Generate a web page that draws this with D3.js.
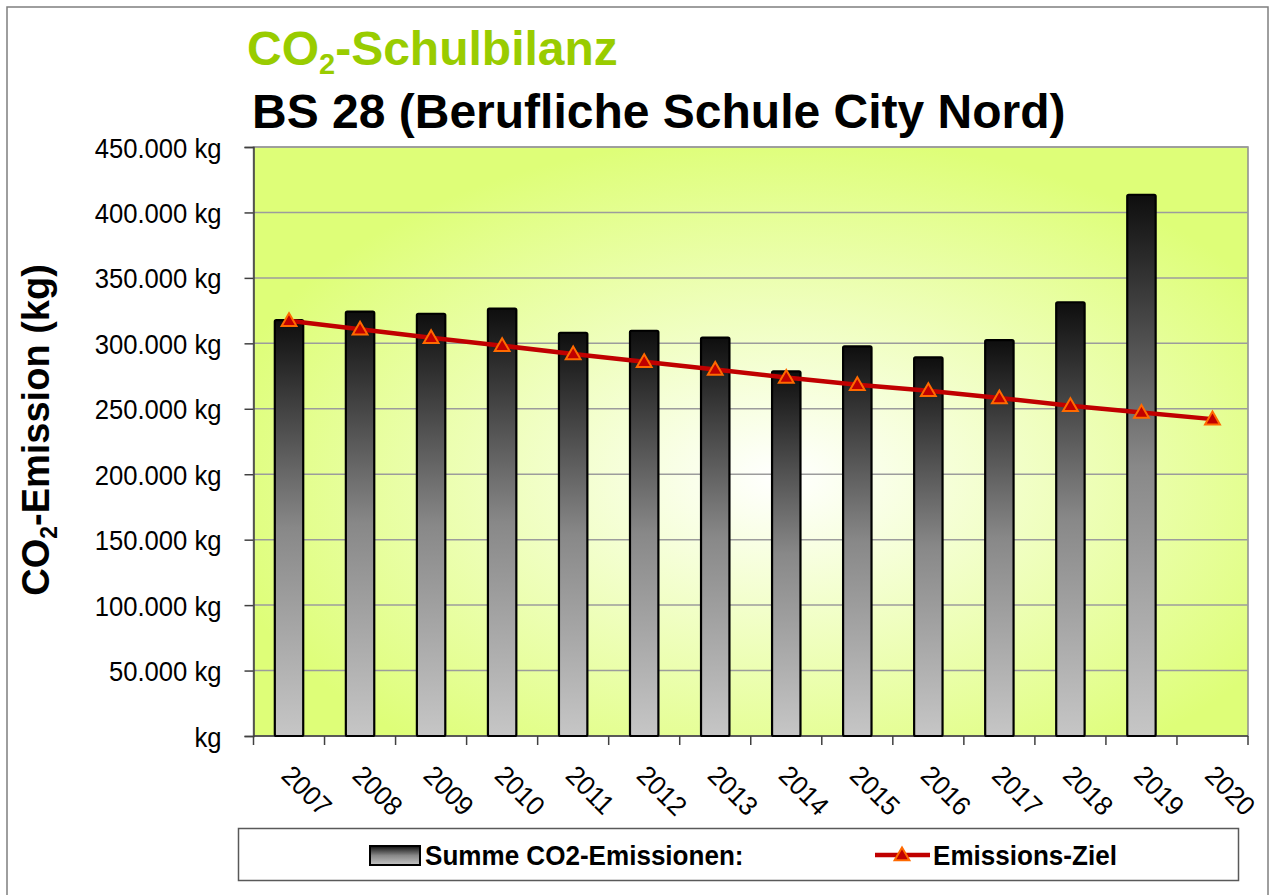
<html>
<head>
<meta charset="utf-8">
<script src="https://cdnjs.cloudflare.com/ajax/libs/d3/7.8.5/d3.min.js"></script>
<style>
  body { margin: 0; background: #fff; }
  text { font-family: "Liberation Sans", Arial, sans-serif; }
</style>
</head>
<body>
<div id="chartContainer"></div>
<script type="text/javascript">
  // chart data (kg)
  var years = ["2007", "2008", "2009", "2010", "2011", "2012", "2013",
               "2014", "2015", "2016", "2017", "2018", "2019", "2020"];
  var emissions = [317800, 324200, 322600, 326500, 308100, 309600, 304300,
                   278600, 297700, 289200, 302500, 331400, 413500, null];
  var targets = [317300, 310700, 304300, 298200, 291900, 285900, 280000,
                 273900, 268300, 263800, 258200, 252300, 247200, 242100];
  var yTicks = [0, 50000, 100000, 150000, 200000, 250000, 300000, 350000, 400000, 450000];
  var seriesNames = ["Summe CO2-Emissionen:", "Emissions-Ziel"];

  var width = 1274, height = 895;
  var plot = { left: 253.5, right: 1248, top: 147, bottom: 736 };

  var svg = d3.select("#chartContainer").append("svg")
    .attr("width", width)
    .attr("height", height);

  var defs = svg.append("defs");

  // plot background: light centre fading to lime at the edges
  var bg = defs.append("radialGradient").attr("id", "plotBg")
    .attr("cx", 0.53).attr("cy", 0.56).attr("r", 0.58);
  bg.append("stop").attr("offset", "0%").attr("stop-color", "#ffffff");
  bg.append("stop").attr("offset", "100%").attr("stop-color", "#defe78");

  // bar fill: dark top, light grey bottom
  var barGrad = defs.append("linearGradient").attr("id", "barFill")
    .attr("x1", 0).attr("y1", 0).attr("x2", 0).attr("y2", 1);
  barGrad.append("stop").attr("offset", "0%").attr("stop-color", "#0e0e0e");
  barGrad.append("stop").attr("offset", "50%").attr("stop-color", "#888888");
  barGrad.append("stop").attr("offset", "100%").attr("stop-color", "#c6c6c6");

  // squeeze a text to a fraction of its natural width
  function condense(sel, factor) {
    sel.each(function () {
      var len = this.getComputedTextLength();
      d3.select(this).attr("textLength", len * factor).attr("lengthAdjust", "spacingAndGlyphs");
    });
  }

  // outer frame
  svg.append("rect")
    .attr("x", 7).attr("y", 7)
    .attr("width", 1261).attr("height", 900)
    .style("fill", "none")
    .style("stroke", "#7f7f7f")
    .style("stroke-width", 1.5);

  // scales
  var x = d3.scaleBand().domain(years).range([plot.left, plot.right]).padding(0);
  var xBar = d3.scaleBand().domain(years).range([plot.left, plot.right])
    .paddingInner(0.6).paddingOuter(0.3);
  var y = d3.scaleLinear().domain([0, 450000]).range([plot.bottom, plot.top]);

  var de = d3.formatLocale({ decimal: ",", thousands: ".", grouping: [3], currency: ["", " €"] });
  var fmt = de.format(",");

  // plot area
  svg.append("rect")
    .attr("x", plot.left).attr("y", plot.top)
    .attr("width", plot.right - plot.left)
    .attr("height", plot.bottom - plot.top)
    .style("fill", "url(#plotBg)")
    .style("stroke", "#8c8c8c")
    .style("stroke-width", 1.5);

  // grid lines
  svg.append("g").selectAll("line")
    .data(yTicks.filter(function (d) { return d > 0; }))
    .enter().append("line")
      .attr("x1", plot.left).attr("x2", plot.right)
      .attr("y1", function (d) { return y(d); })
      .attr("y2", function (d) { return y(d); })
      .style("stroke", "#9c9c9c")
      .style("stroke-width", 1.5);

  // y axis
  var yAxis = svg.append("g")
    .attr("transform", "translate(" + plot.left + ",0)")
    .call(d3.axisLeft(y).tickValues(yTicks).tickSize(9).tickPadding(23)
      .tickFormat(function (d) { return d === 0 ? "kg" : fmt(d) + " kg"; }));
  yAxis.select(".domain").style("stroke", "#404040").style("stroke-width", 1.5);
  yAxis.selectAll(".tick line").style("stroke", "#404040").style("stroke-width", 1.5);
  yAxis.selectAll(".tick text")
    .attr("dy", "0.36em")
    .style("font-size", "28px")
    .style("fill", "#000")
    .call(condense, 0.915);

  // x axis (ticks between the categories)
  var xAxisG = svg.append("g");
  xAxisG.append("line")
    .attr("x1", plot.left).attr("x2", plot.right)
    .attr("y1", plot.bottom).attr("y2", plot.bottom)
    .style("stroke", "#404040").style("stroke-width", 1.5);
  xAxisG.selectAll("line.tick")
    .data(years.concat(["end"]))
    .enter().append("line")
      .attr("class", "tick")
      .attr("x1", function (d) { return d === "end" ? plot.right : x(d); })
      .attr("x2", function (d) { return d === "end" ? plot.right : x(d); })
      .attr("y1", plot.bottom).attr("y2", plot.bottom + 9)
      .style("stroke", "#404040").style("stroke-width", 1.5);
  xAxisG.selectAll("text")
    .data(years)
    .enter().append("text")
      .attr("transform", function (d) {
        return "translate(" + (x(d) + x.bandwidth() / 2 - 9) + "," + 777 + ") rotate(45)";
      })
      .style("font-size", "27px")
      .style("fill", "#000")
      .text(function (d) { return d; })
      .call(condense, 0.95);

  // bars
  var barData = years.map(function (d, i) { return { year: d, value: emissions[i] }; })
    .filter(function (d) { return d.value !== null; });
  svg.append("g").selectAll("rect")
    .data(barData)
    .enter().append("rect")
      .attr("x", function (d) { return xBar(d.year); })
      .attr("y", function (d) { return y(d.value); })
      .attr("width", xBar.bandwidth())
      .attr("height", function (d) { return y(0) - y(d.value); })
      .attr("rx", 1.5)
      .style("fill", "url(#barFill)")
      .style("stroke", "#000")
      .style("stroke-width", 2.2);

  // target line
  var lineData = years.map(function (d, i) { return { year: d, value: targets[i] }; });
  var line = d3.line()
    .x(function (d) { return x(d.year) + x.bandwidth() / 2; })
    .y(function (d) { return y(d.value); });
  svg.append("path")
    .datum(lineData)
    .attr("d", line)
    .style("fill", "none")
    .style("stroke", "#c00000")
    .style("stroke-width", 4.5);

  var tri = d3.symbol().type(d3.symbolTriangle).size(95);
  svg.append("g").selectAll("path")
    .data(lineData)
    .enter().append("path")
      .attr("d", tri)
      .attr("transform", function (d) {
        return "translate(" + (x(d.year) + x.bandwidth() / 2) + "," + (y(d.value) + 1) + ")";
      })
      .style("fill", "#c00000")
      .style("stroke", "#ff6a00")
      .style("stroke-width", 2);

  // titles
  var t1 = svg.append("text")
    .attr("x", 247).attr("y", 65)
    .style("font-size", "48px")
    .style("font-weight", "bold")
    .style("fill", "#99cc00");
  t1.append("tspan").text("CO");
  t1.append("tspan").attr("dy", 9).style("font-size", "29px").text("2");
  t1.append("tspan").attr("dy", -9).text("-Schulbilanz");

  svg.append("text")
    .attr("x", 252).attr("y", 128)
    .style("font-size", "48px")
    .style("font-weight", "bold")
    .style("fill", "#000")
    .text("BS 28 (Berufliche Schule City Nord)");

  // y axis title
  var yt = svg.append("text")
    .attr("transform", "translate(49,430) rotate(-90)")
    .attr("text-anchor", "middle")
    .style("font-size", "38px")
    .style("font-weight", "bold")
    .style("fill", "#000");
  yt.append("tspan").text("CO");
  yt.append("tspan").attr("dy", 8).style("font-size", "23px").text("2");
  yt.append("tspan").attr("dy", -8).text("-Emission (kg)");

  // legend
  var legend = svg.append("g");
  legend.append("rect")
    .attr("x", 238.5).attr("y", 828.5)
    .attr("width", 1000).attr("height", 52)
    .style("fill", "#fff")
    .style("stroke", "#595959")
    .style("stroke-width", 1.5);

  legend.append("rect")
    .attr("x", 370).attr("y", 846)
    .attr("width", 50).attr("height", 19)
    .style("fill", "url(#barFill)")
    .style("stroke", "#000")
    .style("stroke-width", 2);
  legend.append("text")
    .attr("x", 425).attr("y", 865)
    .style("font-size", "27px")
    .style("font-weight", "bold")
    .text(seriesNames[0])
    .call(condense, 0.965);

  legend.append("line")
    .attr("x1", 875).attr("x2", 930)
    .attr("y1", 855).attr("y2", 855)
    .style("stroke", "#c00000")
    .style("stroke-width", 4.5);
  legend.append("path")
    .attr("d", tri)
    .attr("transform", "translate(902,856)")
    .style("fill", "#c00000")
    .style("stroke", "#ff6a00")
    .style("stroke-width", 2);
  legend.append("text")
    .attr("x", 933).attr("y", 865)
    .style("font-size", "27px")
    .style("font-weight", "bold")
    .text(seriesNames[1])
    .call(condense, 0.965);
</script>
</body>
</html>
